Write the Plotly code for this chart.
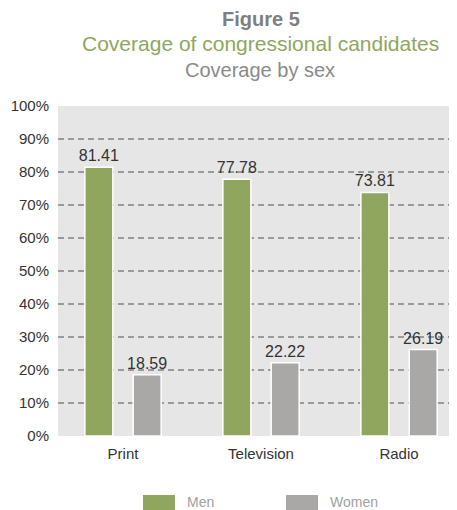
import plotly.graph_objects as go

categories = ["Print", "Television", "Radio"]
men = [81.41, 77.78, 73.81]
women = [18.59, 22.22, 26.19]
series_names = ["Men", "Women"]
series_colors = ["#90A55E", "#A9A8A6"]
title_lines = ["Figure 5", "Coverage of congressional candidates", "Coverage by sex"]

OFF = 8  # page body margin
W, H = 457 - OFF, 510 - OFF
L, R, T, B = 58 - OFF, 0, 106 - OFF, 74
font = "Liberation Sans, Arial, sans-serif"

fig = go.Figure()
for name, vals, col in zip(series_names, [men, women], series_colors):
    fig.add_trace(go.Bar(
        x=categories, y=vals, name=name,
        marker=dict(color=col, line=dict(color="white", width=1.5)),
        text=[f"{v:.2f}" for v in vals], textposition="outside",
        constraintext="none",
        textfont=dict(family=font, size=16, color="#333333"),
        cliponaxis=False, showlegend=False,
    ))

pw = W - L - R
ph = H - T - B
def px_x(x):
    return (x - OFF - L) / pw
def px_y(y):
    return (H - B - (y - OFF)) / ph

annotations = [
    dict(text="<b>" + title_lines[0] + "</b>", x=px_x(261), y=px_y(19), font=dict(size=20, color="#7f7f7f", family=font)),
    dict(text=title_lines[1], x=px_x(260), y=px_y(44), font=dict(size=21, color="#8FA65E", family=font)),
    dict(text=title_lines[2], x=px_x(260), y=px_y(70), font=dict(size=20, color="#8a8a8a", family=font)),
]
for a in annotations:
    a.update(xref="paper", yref="paper", xanchor="center", yanchor="middle", showarrow=False)

shapes = []
legend_pos = [(143, 185), (286, 328)]
for (sx, tx), name, col in zip(legend_pos, series_names, series_colors):
    shapes.append(dict(type="rect", xref="paper", yref="paper",
                       x0=px_x(sx), x1=px_x(sx + 32), y0=px_y(495), y1=px_y(512),
                       fillcolor=col, line=dict(width=0), layer="above"))
    annotations.append(dict(text=name, xref="paper", yref="paper", x=px_x(tx), y=px_y(502),
                            xanchor="left", yanchor="middle", showarrow=False,
                            font=dict(size=14, color="#a0a0a0", family=font)))

fig.update_layout(
    width=W, height=H,
    margin=dict(l=L, r=R, t=T, b=B, pad=0),
    paper_bgcolor="white", plot_bgcolor="#E6E6E6",
    barmode="group", bargap=0.3, bargroupgap=0.42,
    annotations=annotations, shapes=shapes,
    font=dict(family=font, color="#333333"),
    showlegend=False,
)
fig.update_xaxes(range=[-0.471, 2.42], showgrid=False, ticks="", showline=False,
                 ticklabelstandoff=7,
                 tickfont=dict(size=15, color="#333333", family=font))
fig.update_yaxes(range=[0, 100], dtick=10, ticksuffix="%", showgrid=True,
                 gridcolor="#9a9a9a", gridwidth=1.5, griddash="6px,4px",
                 zeroline=False, showline=False, ticks="",
                 ticklabelstandoff=8,
                 tickfont=dict(size=15, color="#333333", family=font))

fig.write_html("out.html")
